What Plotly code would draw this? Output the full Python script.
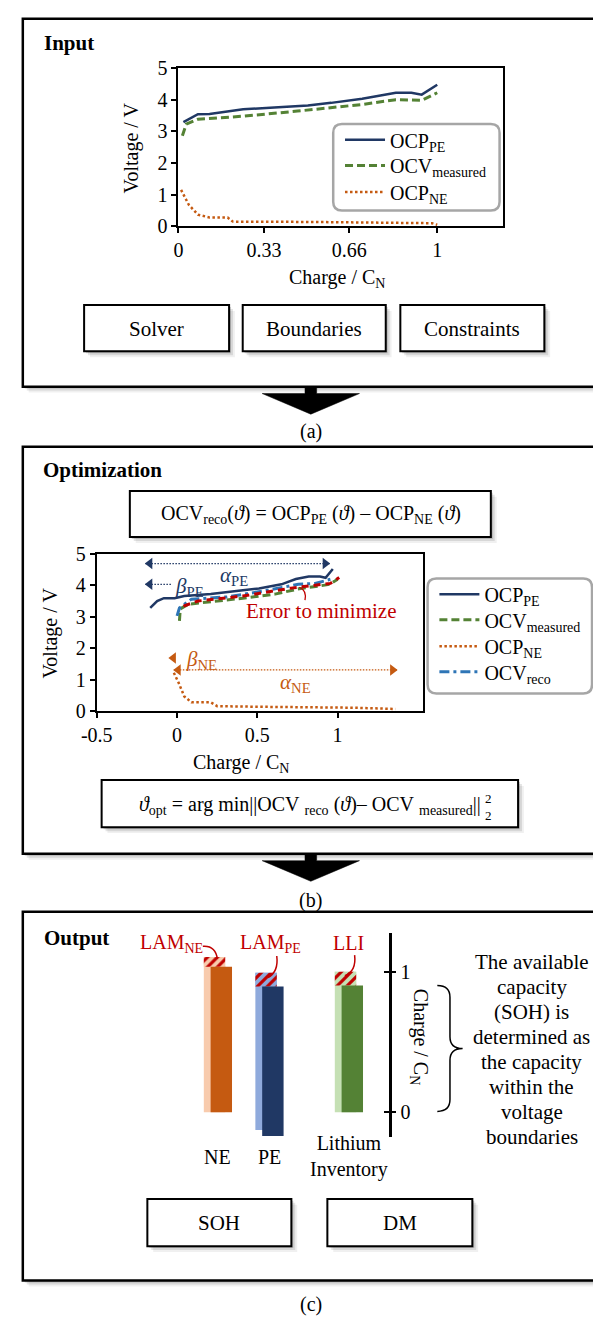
import plotly.graph_objects as go

W, H = 593, 1324
FONT = "Liberation Serif"
NAVY = "#203864"
GREEN = "#548235"
ORANGE = "#c55a11"
BLUE = "#2e75b6"
RED = "#c00000"

# ---------------- data ----------------
# (a) Input chart
in_pe_q = [0.019, 0.075, 0.12, 0.17, 0.25, 0.37, 0.5, 0.59, 0.71, 0.84, 0.9, 0.94, 1.0]
in_pe_v = [3.29, 3.54, 3.55, 3.6, 3.7, 3.75, 3.82, 3.9, 4.03, 4.22, 4.22, 4.16, 4.47]
in_meas_q = [0.015, 0.03, 0.075, 0.25, 0.46, 0.71, 0.84, 0.94, 1.0]
in_meas_v = [2.86, 3.23, 3.38, 3.48, 3.64, 3.85, 4.0, 3.98, 4.22]
in_ne_q = [0.01, 0.04, 0.075, 0.12, 0.19, 0.21, 0.5, 0.75, 0.98, 1.0]
in_ne_v = [1.15, 0.68, 0.37, 0.28, 0.28, 0.15, 0.14, 0.12, 0.1, 0.05]
in_xticks = [0, 0.33, 0.66, 1]
in_xticktext = ["0", "0.33", "0.66", "1"]

# (b) Optimization chart
mid_pe_q = [-0.167, -0.124, -0.082, -0.015, 0.045, 0.21, 0.41, 0.51, 0.65, 0.74, 0.82, 0.89, 0.925, 0.955, 0.97]
mid_pe_v = [3.28, 3.5, 3.59, 3.59, 3.66, 3.72, 3.84, 3.9, 4.03, 4.2, 4.28, 4.28, 4.24, 4.42, 4.52]
mid_meas_q = [0.015, 0.02, 0.07, 0.21, 0.41, 0.61, 0.77, 0.876, 0.95, 1.0]
mid_meas_v = [2.87, 3.25, 3.4, 3.47, 3.59, 3.72, 3.9, 3.97, 4.03, 4.19]
mid_reco_q = [0.0, 0.015, 0.09, 0.31, 0.53, 0.755, 0.86, 0.955]
mid_reco_v = [3.03, 3.28, 3.56, 3.63, 3.81, 4.03, 4.06, 4.19]
mid_err_q = [0.04, 0.13, 0.41, 0.71, 0.955, 1.01]
mid_err_v = [3.34, 3.5, 3.66, 3.91, 4.06, 4.25]
mid_ne_q = [-0.02, 0.01, 0.045, 0.09, 0.21, 0.25, 0.5, 0.81, 1.1, 1.36]
mid_ne_v = [1.22, 0.9, 0.47, 0.28, 0.28, 0.16, 0.14, 0.13, 0.11, 0.07]
mid_xticks = [-0.5, 0, 0.5, 1]
mid_xticktext = ["-0.5", "0", "0.5", "1"]
# scaling arrows (charge extents / level in V)
alpha_pe_span = [-0.197, 0.95]
alpha_pe_level = 4.69
beta_pe_span = [-0.197, -0.033]
beta_pe_level = 4.03
alpha_ne_span = [-0.02, 1.37]
alpha_ne_level = 1.31
beta_ne_tip = -0.05
beta_ne_level = 1.69

# (c) Output capacities (Charge / C_N)
cap_labels = ["NE", "PE", "Lithium<br>Inventory"]
fresh_base = [0.0, -0.126, 0.0]
fresh_top = [1.105, 0.993, 1.0]
aged_base = [0.0, -0.168, 0.0]
aged_top = [1.035, 0.895, 0.902]
loss_labels = ["LAM<sub>NE</sub>", "LAM<sub>PE</sub>", "LLI"]
fresh_colors = ["#f8cbad", "#8faadc", "#c5e0b4"]
aged_colors = [ORANGE, NAVY, GREEN]

# ---------------- helpers ----------------
def px(x):
    return x / W

def py(y):
    return 1 - y / H

def P(x, y):
    return f"{px(x):.5f},{py(y):.5f}"

shapes = []
annots = []

def rect(x0, y0, x1, y1, line=2.5, fill="white", color="black", layer="below"):
    shapes.append(dict(type="rect", xref="paper", yref="paper", x0=px(x0), x1=px(x1),
                       y0=py(y1), y1=py(y0), line=dict(width=line, color=color),
                       fillcolor=fill, layer=layer))

def shadow_box(x0, y0, x1, y1, line=2.5):
    for d, a in ((6, 0.06), (4, 0.10), (2, 0.16)):
        shapes.append(dict(type="rect", xref="paper", yref="paper", x0=px(x0 + d), x1=px(x1 + d),
                           y0=py(y1 + d), y1=py(y0 + d), line=dict(width=0),
                           fillcolor=f"rgba(0,0,0,{a})", layer="below"))
    rect(x0, y0, x1, y1, line=line)

def text(x, y, s, size=21, color="black", angle=0, xanchor="center", bold=False, family=FONT):
    if bold:
        s = f"<b>{s}</b>"
    annots.append(dict(x=px(x), y=py(y), xref="paper", yref="paper", text=s, showarrow=False,
                       xanchor=xanchor, yanchor="middle", textangle=angle,
                       font=dict(size=size, color=color, family=family)))

def path(d, color="black", width=1.5, fill=None, layer="above"):
    shp = dict(type="path", xref="paper", yref="paper", path=d,
               line=dict(width=width, color=color), layer=layer)
    if fill:
        shp["fillcolor"] = fill
    shapes.append(shp)

def rounded(x0, y0, x1, y1, r=9):
    d = (f"M {P(x0 + r, y0)} L {P(x1 - r, y0)} Q {P(x1, y0)} {P(x1, y0 + r)} "
         f"L {P(x1, y1 - r)} Q {P(x1, y1)} {P(x1 - r, y1)} L {P(x0 + r, y1)} "
         f"Q {P(x0, y1)} {P(x0, y1 - r)} L {P(x0, y0 + r)} Q {P(x0, y0)} {P(x0 + r, y0)} Z")
    path(d, color="#a6a6a6", width=2.5)

def down_arrow(ytop):
    d = (f"M {P(297, ytop)} L {P(309, ytop)} L {P(309, ytop + 7)} L {P(353, ytop + 7)} "
         f"L {P(303, ytop + 28)} L {P(253, ytop + 7)} L {P(297, ytop + 7)} Z")
    path(d, color="black", width=0.5, fill="black")

# ---------------- panels ----------------
shadow_box(7, 8, 600, 382, line=2.5)
shadow_box(7, 443, 600, 857, line=2.5)
shadow_box(7, 916, 600, 1291, line=2.5)
down_arrow(382)
down_arrow(857)
text(303, 428, "(a)", size=20)
text(303, 905, "(b)", size=20)
text(303, 1315, "(c)", size=20)

text(27, 33, "Input", size=21, bold=True, xanchor="left")
text(26, 467, "Optimization", size=21, bold=True, xanchor="left")
text(27, 943, "Output", size=21, bold=True, xanchor="left")

# input boxes
for (x0, x1), lab in zip([(70, 219), (233, 380), (395, 543)], ["Solver", "Boundaries", "Constraints"]):
    shadow_box(x0, 299, x1, 346, line=2)
    text((x0 + x1) / 2, 323, lab)
# output boxes
for (x0, x1), lab in zip([(135, 283), (320, 469)], ["SOH", "DM"]):
    shadow_box(x0, 1208, x1, 1256, line=2)
    text((x0 + x1) / 2, 1232, lab)

# formula boxes
NB = "\u00a0"
shadow_box(117, 488, 488, 535, line=2)
text(303, 512, "OCV<sub>reco</sub>(<i>ϑ</i>) = OCP<sub>PE</sub> (<i>ϑ</i>) – OCP<sub>NE</sub> (<i>ϑ</i>)", size=20)
shadow_box(88, 782, 516, 830, line=2)
text(480, 808, f"<i>ϑ</i><sub>opt</sub>{NB}={NB}arg{NB}min||OCV{NB}<sub>reco</sub>{NB}(<i>ϑ</i>)–{NB}OCV{NB}<sub>measured</sub>||",
     size=20, xanchor="right")
text(480, 801, "2", size=13, xanchor="left")
text(480, 818, "2", size=13, xanchor="left")

# axis titles
text(119, 139, "Voltage / V", size=20, angle=-90)
text(330, 272, "Charge / C<sub>N</sub>", size=20)
text(35, 633, "Voltage / V", size=20, angle=-90)
text(231, 765, "Charge / C<sub>N</sub>", size=20)

# legend frames
rounded(326, 115, 497, 203)
rounded(423, 577, 592, 694)

# ---------------- traces ----------------
fig = go.Figure()
DASH = "8px,4px"
DOT = "2.5px,2.5px"
DASHDOT = "10px,4px,3px,4px"

fig.add_trace(go.Scatter(x=in_pe_q, y=in_pe_v, mode="lines", name="OCP<sub>PE</sub>",
                         line=dict(color=NAVY, width=2.5), xaxis="x", yaxis="y", legend="legend"))
fig.add_trace(go.Scatter(x=in_meas_q, y=in_meas_v, mode="lines", name="OCV<sub>measured</sub>",
                         line=dict(color=GREEN, width=3, dash=DASH), xaxis="x", yaxis="y", legend="legend2"))
fig.add_trace(go.Scatter(x=in_ne_q, y=in_ne_v, mode="lines", name="OCP<sub>NE</sub>",
                         line=dict(color=ORANGE, width=2.5, dash=DOT), xaxis="x", yaxis="y", legend="legend3"))

# middle chart arrows (drawn first so curves lie on top)
def arrow_line(span, level, color, heads):
    fig.add_trace(go.Scatter(x=span, y=[level, level], mode="lines", showlegend=False,
                             line=dict(color=color, width=1.3, dash="1.5px,1.5px"),
                             xaxis="x2", yaxis="y2", hoverinfo="skip"))
    off = 4.5 / 165
    for side in heads:
        if side == "left":
            hx, sym = span[0] + off, "triangle-left"
        else:
            hx, sym = span[1] - off, "triangle-right"
        fig.add_trace(go.Scatter(x=[hx], y=[level], mode="markers", showlegend=False,
                                 marker=dict(symbol=sym, size=10, color=color),
                                 xaxis="x2", yaxis="y2", hoverinfo="skip"))

arrow_line(alpha_pe_span, alpha_pe_level, NAVY, ["left", "right"])
arrow_line(beta_pe_span, beta_pe_level, NAVY, ["left"])
arrow_line(alpha_ne_span, alpha_ne_level, ORANGE, ["left", "right"])
fig.add_trace(go.Scatter(x=[beta_ne_tip + 4.5 / 165], y=[beta_ne_level], mode="markers", showlegend=False,
                         marker=dict(symbol="triangle-left", size=10, color=ORANGE),
                         xaxis="x2", yaxis="y2", hoverinfo="skip"))

fig.add_trace(go.Scatter(x=mid_pe_q, y=mid_pe_v, mode="lines", name="OCP<sub>PE</sub>",
                         line=dict(color=NAVY, width=2.5), xaxis="x2", yaxis="y2", legend="legend4"))
fig.add_trace(go.Scatter(x=mid_meas_q, y=mid_meas_v, mode="lines", name="OCV<sub>measured</sub>",
                         line=dict(color=GREEN, width=3, dash=DASH), xaxis="x2", yaxis="y2", legend="legend5"))
fig.add_trace(go.Scatter(x=mid_ne_q, y=mid_ne_v, mode="lines", name="OCP<sub>NE</sub>",
                         line=dict(color=ORANGE, width=2.5, dash=DOT), xaxis="x2", yaxis="y2", legend="legend6"))
fig.add_trace(go.Scatter(x=mid_reco_q, y=mid_reco_v, mode="lines", name="OCV<sub>reco</sub>",
                         line=dict(color=BLUE, width=3, dash=DASHDOT), xaxis="x2", yaxis="y2", legend="legend7"))
fig.add_trace(go.Scatter(x=mid_err_q, y=mid_err_v, mode="lines", showlegend=False,
                         line=dict(color=RED, width=3, dash="7px,5px"), xaxis="x2", yaxis="y2"))

# middle chart labels (data coordinates)
def dtext(x, y, s, color, size=21):
    annots.append(dict(x=x, y=y, xref="x2", yref="y2", text=s, showarrow=False,
                       font=dict(size=size, color=color, family=FONT)))

dtext(0.355, 4.28, "<i>α</i><sub>PE</sub>", NAVY)
dtext(0.077, 3.95, "<i>β</i><sub>PE</sub>", NAVY)
dtext(0.15, 1.62, "<i>β</i><sub>NE</sub>", ORANGE)
dtext(0.74, 0.88, "<i>α</i><sub>NE</sub>", ORANGE)
dtext(0.894, 3.19, "Error to minimize", RED)
path(f"M {P(291, 586)} Q {P(299, 589)} {P(297, 599)}", color=RED, width=1.3)

# ---------------- output bars ----------------
group_pos = [0, 1, 2.54]
bar_w = 0.415
shift = 0.132
for i in range(3):
    fig.add_trace(go.Bar(x=[group_pos[i]], y=[fresh_top[i] - fresh_base[i]], base=[fresh_base[i]],
                         width=bar_w, marker=dict(color=fresh_colors[i], line=dict(width=0)),
                         showlegend=False, xaxis="x3", yaxis="y3"))
    fig.add_trace(go.Bar(x=[group_pos[i]], y=[fresh_top[i] - aged_top[i]], base=[aged_top[i]],
                         width=bar_w,
                         marker=dict(color=fresh_colors[i], line=dict(width=0),
                                     pattern=dict(shape="/", fgcolor=RED, bgcolor=fresh_colors[i],
                                                  size=7, solidity=0.45, fillmode="replace")),
                         showlegend=False, xaxis="x3", yaxis="y3"))
    fig.add_trace(go.Bar(x=[group_pos[i] + shift], y=[aged_top[i] - aged_base[i]], base=[aged_base[i]],
                         width=bar_w, marker=dict(color=aged_colors[i], line=dict(width=0)),
                         showlegend=False, xaxis="x3", yaxis="y3"))
    annots.append(dict(x=group_pos[i] + shift / 2, y=py(1165), xref="x3", yref="paper",
                       text=cap_labels[i], showarrow=False, yanchor="middle",
                       font=dict(size=20, family=FONT, color="black")))

# loss labels
for (lx, lab) in zip([160, 262, 342], loss_labels):
    text(lx, 948, lab, size=20, color=RED)
path(f"M {P(192, 951)} Q {P(205, 950)} {P(207, 964)}", color=RED, width=1.5)
path(f"M {P(268, 961)} Q {P(270, 977)} {P(259, 983)}", color=RED, width=1.5)
path(f"M {P(348, 960)} Q {P(350, 976)} {P(338, 981)}", color=RED, width=1.5)

text(415, 1043, "Charge / C<sub>N</sub>", size=20, angle=90)
# brace
path(f"M {P(433, 991)} Q {P(446, 991)} {P(446, 1003)} L {P(446, 1043)} Q {P(446, 1055)} {P(459, 1055)} "
     f"Q {P(446, 1055)} {P(446, 1067)} L {P(446, 1107)} Q {P(446, 1119)} {P(433, 1119)}",
     color="black", width=1.5)
for k, line in enumerate(["The available", "capacity", "(SOH) is", "determined as",
                          "the capacity", "within the", "voltage", "boundaries"]):
    text(530, 967 + k * 25.4, line, size=21)

# ---------------- layout ----------------
axis_common = dict(showgrid=False, zeroline=False, showline=True, linecolor="black", linewidth=2,
                   ticks="outside", ticklen=5, tickwidth=1.5, tickcolor="black",
                   tickfont=dict(size=20, family=FONT, color="black"))

def item_legend(x, y):
    return dict(x=px(x), y=py(y), xanchor="left", yanchor="middle", bgcolor="rgba(0,0,0,0)",
                borderwidth=0, itemwidth=40, font=dict(size=20, family=FONT, color="black"))

fig.update_layout(
    width=W, height=H, autosize=False,
    margin=dict(l=0, r=0, t=0, b=0, pad=0),
    paper_bgcolor="white", plot_bgcolor="rgba(0,0,0,0)",
    font=dict(family=FONT, size=20, color="black"),
    barmode="overlay",
    xaxis=dict(domain=[px(167), px(501)], range=[0, 1.256], anchor="y", mirror=True,
               tickvals=in_xticks, ticktext=in_xticktext, **axis_common),
    yaxis=dict(domain=[py(219), py(58)], range=[0, 5], anchor="x", mirror=True, dtick=1, **axis_common),
    xaxis2=dict(domain=[px(83), px(418)], range=[-0.5, 1.53], anchor="y2", mirror=True,
                tickvals=mid_xticks, ticktext=mid_xticktext, **axis_common),
    yaxis2=dict(domain=[py(712), py(552)], range=[0, 5], anchor="x2", mirror=True, dtick=1, **axis_common),
    xaxis3=dict(domain=[px(150), px(383)], range=[-1.019, 3.377], anchor="y3", visible=False),
    yaxis3=dict(domain=[py(1145), py(938)], range=[-0.175, 1.273], anchor="x3", side="right",
                showgrid=False, zeroline=False, showline=True, linecolor="black", linewidth=2.5,
                ticks="outside", ticklen=5, tickwidth=2, tickcolor="black", tickvals=[0, 1],
                tickfont=dict(size=20, family=FONT, color="black")),
    yaxis4=dict(overlaying="y3", anchor="free", position=px(383), side="left",
                range=[-0.175, 1.273], showgrid=False, zeroline=False, showline=False,
                ticks="outside", ticklen=5, tickwidth=2, tickcolor="black", tickvals=[0, 1],
                showticklabels=False),
    legend=item_legend(333, 131),
    legend2=item_legend(333, 157),
    legend3=item_legend(333, 184),
    legend4=item_legend(430, 593),
    legend5=item_legend(430, 619),
    legend6=item_legend(430, 646),
    legend7=item_legend(430, 672),
    shapes=shapes,
    annotations=annots,
    showlegend=True,
)
# dummy trace to activate yaxis4 ticks
fig.add_trace(go.Scatter(x=[None], y=[None], xaxis="x3", yaxis="y4", showlegend=False))

fig.write_html("out.html", config={"displayModeBar": False},
               post_script="document.body.style.margin='0';document.body.style.overflow='hidden';")
